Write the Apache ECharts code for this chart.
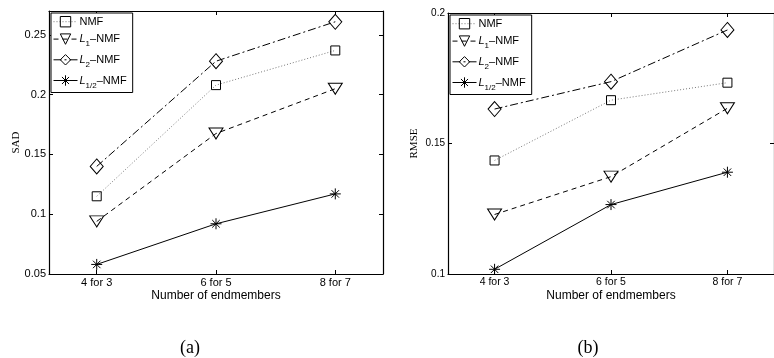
<!DOCTYPE html>
<html>
<head>
<meta charset="utf-8">
<script src="https://cdn.jsdelivr.net/npm/echarts@6/dist/echarts.min.js"></script>
<style>html,body{margin:0;padding:0;background:#fff;}#c{width:774px;height:358px;}</style>
</head>
<body>
<div id="c"></div>
<script>
const categories = ['4 for 3', '6 for 5', '8 for 7'];
const seriesNames = ['NMF', 'L1-NMF', 'L2-NMF', 'L1/2-NMF'];
const sadNMF = [0.115, 0.208, 0.237];
const sadL1 = [0.094, 0.1675, 0.205];
const sadL2 = [0.140, 0.228, 0.261];
const sadLhalf = [0.058, 0.092, 0.117];
const rmseNMF = [0.1435, 0.1666, 0.1733];
const rmseL1 = [0.1228, 0.1373, 0.1635];
const rmseL2 = [0.1632, 0.1737, 0.1935];
const rmseLhalf = [0.1018, 0.1266, 0.1390];
const sadTicks = [0.05, 0.1, 0.15, 0.2, 0.25];
const rmseTicks = [0.1, 0.15, 0.2];

const FONT = 'Liberation Sans';
const SERIF = 'Liberation Serif';
const catIdx = categories.map((c, i) => i);

const styles = [
  { symbol: 'rect', symbolSize: 9, symbolRotate: 0, line: { color: '#777', type: [1, 2], width: 1 } },
  { symbol: 'triangle', symbolSize: [14, 11], symbolRotate: 180, line: { color: '#000', type: [5, 4], width: 1 } },
  { symbol: 'diamond', symbolSize: [13, 15], symbolRotate: 0, line: { color: '#000', type: [8, 3, 2, 3], width: 1 } },
  { symbol: 'path://M5,0L5,10M0,5L10,5M1.6,1.6L8.4,8.4M1.6,8.4L8.4,1.6', symbolSize: 11, symbolRotate: 0, line: { color: '#000', type: 'solid', width: 1 } }
];

function mkSeries(vals, k, gi) {
  const st = styles[k];
  return {
    type: 'line', name: seriesNames[k], xAxisIndex: gi * 2, yAxisIndex: gi * 2,
    data: vals.map((v, i) => [catIdx[i], v]),
    symbol: st.symbol, symbolSize: st.symbolSize, symbolRotate: st.symbolRotate,
    showSymbol: true, animation: false,
    lineStyle: st.line,
    itemStyle: { color: 'rgba(255,255,255,0)', borderColor: '#000', borderWidth: 1 },
    emphasis: { disabled: true }
  };
}

function xAxes(gi, fs) {
  const base = {
    type: 'value', gridIndex: gi, min: -0.4, max: 2.4,
    splitLine: { show: false },
    axisLine: { show: true, onZero: false, lineStyle: { color: '#000', width: 1.2 } },
    axisTick: { show: true, inside: true, length: 4, customValues: catIdx, lineStyle: { color: '#000' } }
  };
  return [
    Object.assign({}, base, {
      position: 'bottom',
      name: 'Number of endmembers', nameLocation: 'middle', nameGap: 16, nameMoveOverlap: false,
      nameTextStyle: { fontFamily: FONT, fontSize: 12, color: '#000' },
      axisLabel: { show: true, customValues: catIdx, formatter: v => categories[Math.round(v)], margin: 3, fontFamily: FONT, fontSize: fs, color: '#000' }
    }),
    Object.assign({}, base, { position: 'top', axisLabel: { show: false } })
  ];
}

function yAxes(gi, min, max, ticks, name, nameGap, fs) {
  const base = {
    type: 'value', gridIndex: gi, min: min, max: max,
    splitLine: { show: false },
    axisLine: { show: true, onZero: false, lineStyle: { color: '#000', width: 1.2 } },
    axisTick: { show: true, inside: true, length: 4, customValues: ticks, lineStyle: { color: '#000' } }
  };
  return [
    Object.assign({}, base, {
      position: 'left',
      name: name, nameLocation: 'middle', nameGap: nameGap, nameMoveOverlap: false,
      nameTextStyle: { fontFamily: SERIF, fontSize: 11, color: '#000' },
      axisLabel: { show: true, customValues: ticks, margin: 3, fontFamily: FONT, fontSize: fs, color: '#000' }
    }),
    Object.assign({}, base, { position: 'right', axisLabel: { show: false } })
  ];
}

function legendFmt(name) {
  if (name === 'NMF') return '{n|NMF}';
  if (name === 'L1-NMF') return '{i|L}{s|1}{n|\u2013NMF}';
  if (name === 'L2-NMF') return '{i|L}{s|2}{n|\u2013NMF}';
  return '{i|L}{s|1/2}{n|\u2013NMF}';
}

function mkLegend(left, top) {
  return {
    show: true, orient: 'vertical', left: left, top: top,
    data: seriesNames, itemWidth: 24, itemHeight: 13, itemGap: 6,
    padding: [3, 6, 3, 2], borderColor: '#000', borderWidth: 1, backgroundColor: '#fff',
    selectedMode: false, formatter: legendFmt,
    lineStyle: { width: 1 },
    itemStyle: { borderWidth: 1 },
    textStyle: {
      fontFamily: FONT, fontSize: 11, color: '#000', padding: [0, 0, 0, -3],
      rich: {
        n: { fontFamily: FONT, fontSize: 11, color: '#000', lineHeight: 13 },
        i: { fontFamily: FONT, fontSize: 11, fontStyle: 'italic', color: '#000', lineHeight: 13 },
        s: { fontFamily: FONT, fontSize: 8, color: '#000', verticalAlign: 'bottom', lineHeight: 18 }
      }
    }
  };
}

const chart = echarts.init(document.getElementById('c'), null, { renderer: 'canvas' });
const xa = xAxes(0, 11).concat(xAxes(1, 10.5));
const ya = yAxes(0, 0.05, 0.27, sadTicks, 'SAD', 27, 11).concat(yAxes(1, 0.1, 0.2, rmseTicks, 'RMSE', 28, 10));

chart.setOption({
  animation: false,
  grid: [
    { left: 49, top: 11, width: 334, height: 263 },
    { left: 448, top: 13, width: 333, height: 261 }
  ],
  xAxis: xa,
  yAxis: ya,
  legend: [mkLegend(51, 13), mkLegend(450, 15)],
  series: [
    mkSeries(sadNMF, 0, 0), mkSeries(sadL1, 1, 0), mkSeries(sadL2, 2, 0), mkSeries(sadLhalf, 3, 0),
    mkSeries(rmseNMF, 0, 1), mkSeries(rmseL1, 1, 1), mkSeries(rmseL2, 2, 1), mkSeries(rmseLhalf, 3, 1)
  ],
  graphic: [
    { type: 'text', x: 190, y: 348, style: { text: '(a)', font: '18px "Liberation Serif"', fill: '#000', align: 'center', verticalAlign: 'middle' } },
    { type: 'text', x: 588, y: 348, style: { text: '(b)', font: '18px "Liberation Serif"', fill: '#000', align: 'center', verticalAlign: 'middle' } }
  ]
});
</script>
</body>
</html>
